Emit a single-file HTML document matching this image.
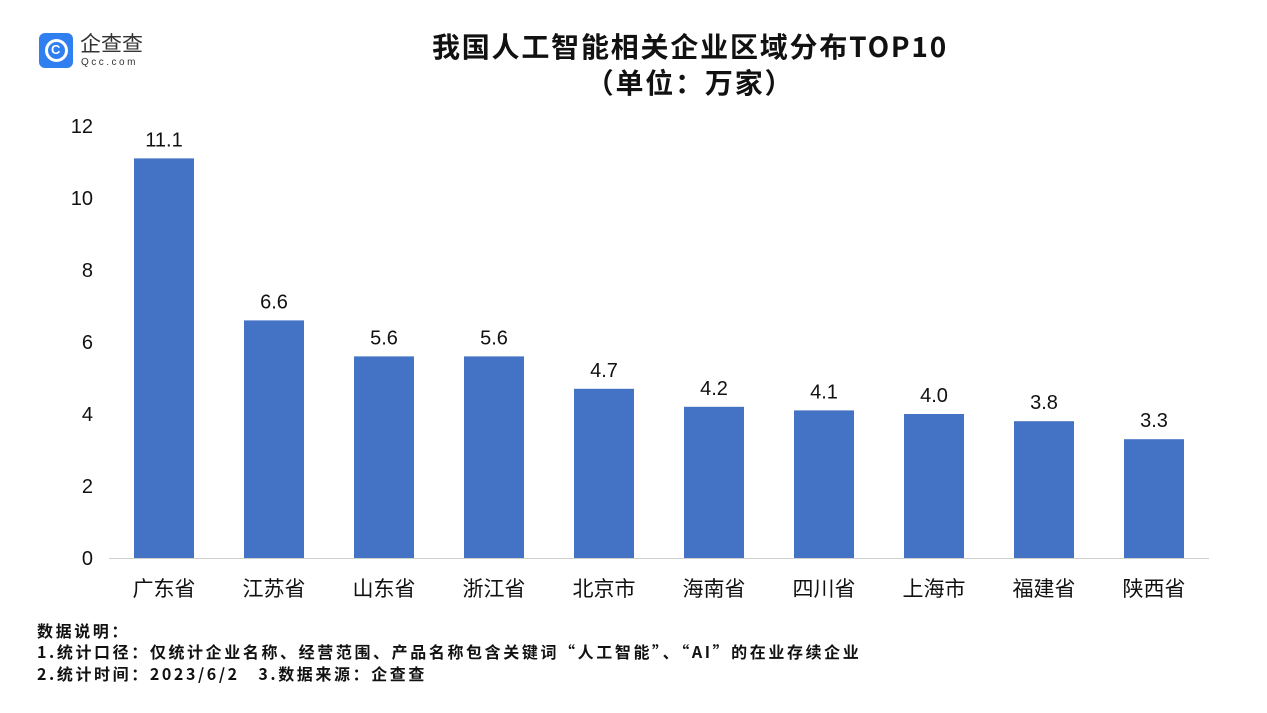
<!DOCTYPE html>
<html><head><meta charset="utf-8">
<style>
body{margin:0;width:1267px;height:713px;background:#fff;overflow:hidden;position:relative;font-family:"Liberation Sans","Noto Sans CJK SC",sans-serif;}
.t{position:absolute;left:0;width:1380px;text-align:center;font-weight:bold;font-size:28px;line-height:34px;color:#111;font-family:"Noto Sans CJK SC",sans-serif;letter-spacing:1.8px;}
.fn{position:absolute;left:37px;font-size:16px;line-height:20px;font-weight:bold;color:#111;font-family:"Noto Sans CJK SC",sans-serif;letter-spacing:2.6px;white-space:nowrap;}
</style></head><body>
<div style="position:absolute;left:39px;top:33px;">
  <div style="position:absolute;left:0;top:0;width:34px;height:35px;background:#2f7ff0;border-radius:6px;">
    <div style="position:absolute;left:6px;top:6px;width:17px;height:17px;border:3px solid #fff;border-radius:50%;"></div>
    <div style="position:absolute;left:12px;top:9px;color:#fff;font-size:13px;font-weight:bold;">C</div>
  </div>
  <div style="position:absolute;left:41px;top:1px;font-size:21px;color:#333;white-space:nowrap;line-height:22px;">企查查</div>
  <div style="position:absolute;left:42px;top:24px;font-size:10px;color:#333;letter-spacing:2.5px;white-space:nowrap;">Qcc.com</div>
</div>
<div class="t" style="top:29px;">我国人工智能相关企业区域分布TOP10</div>
<div class="t" style="top:65px;">（单位：万家）</div>
<svg id="chart" width="1267" height="713" style="position:absolute;left:0;top:0;"></svg>
<div class="fn" style="top:620px;">数据说明：</div>
<div class="fn" style="top:641px;">1.统计口径：仅统计企业名称、经营范围、产品名称包含关键词“人工智能”、“AI”的在业存续企业</div>
<div class="fn" style="top:663px;">2.统计时间：2023/6/2&nbsp;&nbsp;&nbsp;3.数据来源：企查查</div>
<script>
const categories=["广东省","江苏省","山东省","浙江省","北京市","海南省","四川省","上海市","福建省","陕西省"];
const values=[11.1,6.6,5.6,5.6,4.7,4.2,4.1,4.0,3.8,3.3];
const yTicks=[0,2,4,6,8,10,12];
const svg=document.getElementById('chart');
const NS='http://www.w3.org/2000/svg';
const y0=558,pxPer=36,x0=109,step=110,bw=60;
const y=v=>y0-v*pxPer;
const xc=i=>x0+step*(i+0.5);
function mk(tag,attrs,txt){const e=document.createElementNS(NS,tag);for(const k in attrs)e.setAttribute(k,attrs[k]);if(txt!==undefined)e.textContent=txt;svg.appendChild(e);return e;}
yTicks.forEach(t=>{
  const e=mk('text',{x:93,y:y(t)+7,'text-anchor':'end','font-size':20,fill:'#111','font-family':'Liberation Sans,sans-serif'},t);
  
  
});
values.forEach((v,i)=>{
  const r=mk('rect',{x:xc(i)-bw/2,y:y(v),width:bw,height:v*pxPer,fill:'#4472c4'});
  
  
  const l=mk('text',{x:xc(i),y:y(v)-12,'text-anchor':'middle','font-size':20,fill:'#111','font-family':'Liberation Sans,sans-serif'},v.toFixed(1));
  
  
  const c=mk('text',{x:xc(i),y:596,'text-anchor':'middle','font-size':21,fill:'#111','font-family':'Noto Sans CJK SC,sans-serif'},categories[i]);
  
  
});
const ax=mk('line',{x1:x0,x2:x0+step*categories.length,y1:y0+0.5,y2:y0+0.5,stroke:'#d0d0d0','stroke-width':1});


</script>
</body></html>
